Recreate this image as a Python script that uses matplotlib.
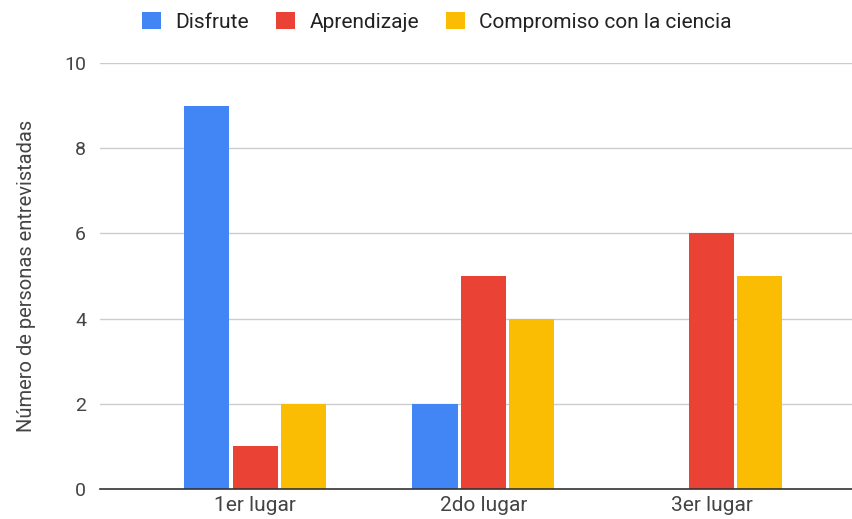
import matplotlib
matplotlib.use("Agg")
import matplotlib.pyplot as plt
import numpy as np
from matplotlib.patches import Patch

plt.rcParams['font.family'] = ['Roboto', 'DejaVu Sans']

categories = ["1er lugar", "2do lugar", "3er lugar"]
series_names = ["Disfrute", "Aprendizaje", "Compromiso con la ciencia"]
disfrute = [9, 2, 0]
aprendizaje = [1, 5, 6]
compromiso = [2, 4, 5]
colors = ["#4285F4", "#EA4335", "#FBBC04"]
yticks = [0, 2, 4, 6, 8, 10]

fig = plt.figure(figsize=(8.53, 5.19), dpi=100)
ax = fig.add_axes([100/853, 30/519, 1 - 100/853, 426/519])

x = np.arange(len(categories))
step = 0.212
width = 0.198
for i, (vals, c) in enumerate(zip([disfrute, aprendizaje, compromiso], colors)):
    ax.bar(x + (i - 1) * step, vals, width=width, color=c, zorder=3)

ax.set_ylim(0, 10)
ax.set_xlim(-0.68, 2.62)
ax.set_yticks(yticks)
ax.set_xticks(x)
ax.set_xticklabels(categories)
ax.grid(axis='y', color='#cccccc', linewidth=1, zorder=0)
for s in ['top', 'right', 'left']:
    ax.spines[s].set_visible(False)
ax.spines['bottom'].set_color('#333333')
ax.spines['bottom'].set_linewidth(1.2)
ax.spines['bottom'].set_zorder(4)
ax.tick_params(axis='both', length=0, labelcolor='#444444')
ax.tick_params(axis='y', pad=10, labelsize=14)
ax.tick_params(axis='x', pad=5, labelsize=15)
ax.set_ylabel("Número de personas entrevistadas", fontsize=14.5, color='#444444', labelpad=20)

handles = [Patch(facecolor=c, edgecolor='none') for c in colors]
fig.legend(handles, series_names, loc='center', bbox_to_anchor=(437/853, 1 - 22/519),
           ncol=3, frameon=False, fontsize=15, handlelength=0.9, handleheight=0.9,
           handletextpad=0.7, columnspacing=1.3, labelcolor='#222222')

fig.savefig("out.png", dpi=100)
